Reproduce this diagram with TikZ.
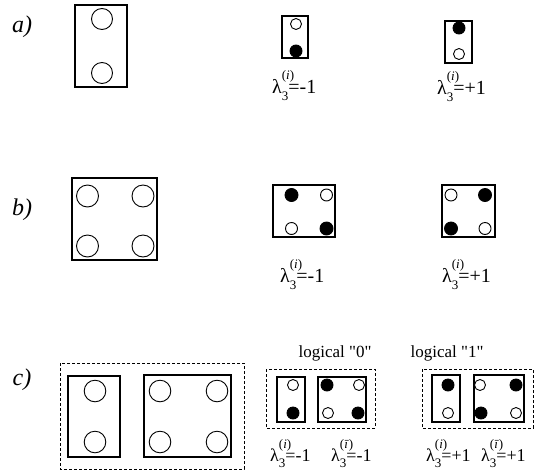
\documentclass[tikz,border=0pt]{standalone}
\usepackage{fontspec}
\setmainfont{Liberation Serif}[Ligatures=TeXOff]
\usetikzlibrary{positioning}
\tikzset{
  % Yacheyka (cell)
  cellbox/.style  = {draw=black, line width=1.2pt},
  grpbox/.style   = {draw=black, line width=0.9pt, dash pattern=on 3pt off 2pt},
  % Nuqtalar
  hole/.style     = {draw=black, line width=0.9pt, fill=white},
  dotfull/.style  = {draw=black, line width=0.9pt, fill=black},
  % Etiketlar
  partlab/.style  = {font=\fontsize{24}{27}\selectfont\itshape, inner sep=0pt},
  eiglab/.style   = {font=\fontsize{20}{23}\selectfont, inner sep=0pt, anchor=base west},
  eigsmall/.style = {eiglab, font=\fontsize{18}{21}\selectfont},
  logiclab/.style = {font=\fontsize{17}{20}\selectfont, inner sep=0pt, anchor=base},
}
\newcommand{\eig}[2]{λ\rlap{\raisebox{0.7em}{\fontsize{13}{15}\selectfont(\textit{#1})}}\raisebox{-0.35em}{\fontsize{13}{15}\selectfont 3}=#2}
\begin{document}
\begin{tikzpicture}[x=1pt,y=-1pt]
  \useasboundingbox (0,0) rectangle (534,474);
  % a) ikki nuqtali yacheyka
  \node[partlab] (pa) at (22,27) {a)};
  \draw[cellbox] (75,5) rectangle (127,87);
  \draw[hole] (102,19) circle (10.5);
  \draw[hole] (102,73) circle (10.5);
  \draw[cellbox] (282,16) rectangle (308,58);
  \draw[hole] (296,24) circle (5.5);
  \fill[dotfull] (296,51) circle (6);
  \draw[cellbox] (445,21) rectangle (472,63);
  \fill[dotfull] (459,28) circle (6);
  \draw[hole] (459,54) circle (5.5);
  \node[eiglab] (labAm) at (272,93) {\eig{i}{-1}};
  \node[eiglab] (labAp) at (437,94) {\eig{i}{+1}};
  % b) to'rt nuqtali yacheyka
  \node[partlab] (pb) at (22,210) {b)};
  \draw[cellbox] (72,178) rectangle (157,260);
  \foreach \x in {87.5,143} \foreach \y in {196,246}
    \draw[hole] (\x,\y) circle (11);
  \draw[cellbox] (273,185) rectangle (335,237);
  \fill[dotfull] (291.5,195) circle (6.5);
  \draw[hole] (326.5,195) circle (6);
  \draw[hole] (291.5,228.5) circle (6);
  \fill[dotfull] (326.5,228.5) circle (6.5);
  \draw[cellbox] (442,185) rectangle (495,237);
  \draw[hole] (451,195) circle (6);
  \fill[dotfull] (485,195) circle (6.5);
  \fill[dotfull] (451,228.5) circle (6.5);
  \draw[hole] (485,228.5) circle (6);
  \node[eiglab] (labBm) at (280,282) {\eig{i}{-1}};
  \node[eiglab] (labBp) at (442,282) {\eig{i}{+1}};
  % c) ikki yacheyka birga
  \node[partlab] (pc) at (22,380) {c)};
  \draw[grpbox] (60,363) rectangle (244,469);
  \draw[cellbox] (68,376) rectangle (120,457);
  \draw[hole] (95,391) circle (10.8);
  \draw[hole] (95,442) circle (10.8);
  \draw[cellbox] (144,375) rectangle (231,457);
  \foreach \x in {160,217} \foreach \y in {391,442}
    \draw[hole] (\x,\y) circle (10.8);
  % logical "0"
  \node[logiclab] (lz) at (335,357) {logical "0"};
  \draw[grpbox] (266,369) rectangle (375,428);
  \draw[cellbox] (277,377) rectangle (305,422);
  \draw[hole] (293,385) circle (5.5);
  \fill[dotfull] (293,413) circle (6);
  \draw[cellbox] (318,377) rectangle (366,422);
  \fill[dotfull] (327,385) circle (6);
  \draw[hole] (359,385) circle (5.5);
  \draw[hole] (328,413) circle (5.5);
  \fill[dotfull] (358,413) circle (6);
  \node[eigsmall] (labCm) at (270,461) {\eig{i}{-1}};
  \node[eigsmall] (labCmb) at (331,461) {\eig{\=\i}{-1}};
  % logical "1"
  \node[logiclab] (lo) at (447,357) {logical "1"};
  \draw[grpbox] (422,369) rectangle (533,428);
  \draw[cellbox] (432,375) rectangle (460,422);
  \fill[dotfull] (448,385) circle (6);
  \draw[hole] (448,413) circle (5.5);
  \draw[cellbox] (474,375) rectangle (524,422);
  \draw[hole] (480,385) circle (5.5);
  \fill[dotfull] (516,385) circle (6);
  \fill[dotfull] (481,413) circle (6);
  \draw[hole] (516,413) circle (5.5);
  \node[eigsmall] (labCp) at (426,461) {\eig{i}{+1}};
  \node[eigsmall] (labCpb) at (481,461) {\eig{\=\i}{+1}};
\end{tikzpicture}
\end{document}
